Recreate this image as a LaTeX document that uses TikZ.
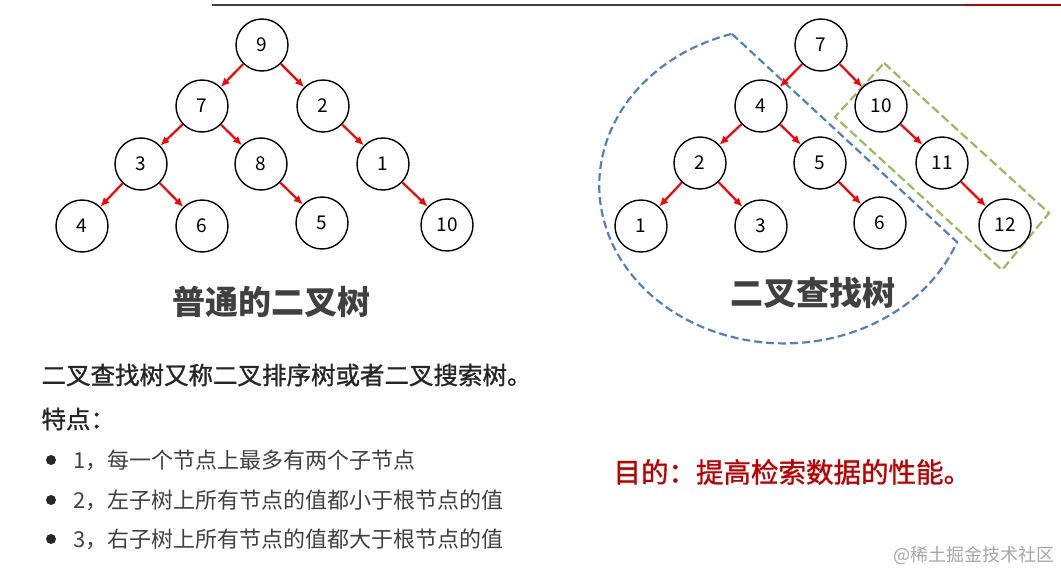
\documentclass[tikz,border=0pt]{standalone}
\usepackage{fontspec}
\setmainfont{Noto Sans CJK SC}
\newfontfamily\heavycjk[FakeBold=1.2]{Noto Sans CJK SC}
\usepackage{xcolor}
\usepackage{tikz}
\usetikzlibrary{arrows.meta}
\definecolor{darktext}{RGB}{64,64,64}
\definecolor{titlered}{RGB}{192,0,0}
\definecolor{boxblue}{RGB}{79,129,189}
\definecolor{boxgreen}{RGB}{155,187,89}

\begin{document}
\begin{tikzpicture}[x=1pt, y=-1pt,
    treenode/.style={circle, draw, line width=1.4pt, minimum size=52pt, inner sep=0pt, font=\fontsize{19}{19}\selectfont},
    edge/.style={-{Latex[length=9pt,width=8pt]}, red, line width=2.2pt},
    title/.style={font=\fontsize{33}{33}\selectfont\bfseries, text=darktext},
    point/.style={anchor=west, font=\fontsize{22}{22}\selectfont, text=darktext}]
    \useasboundingbox (0,0) rectangle (1061,570);
    \draw[line width=2.5pt, darktext] (212,5) -- (965,5);
    \draw[line width=2.5pt, titlered] (965,5) -- (1061,5);

    \node[treenode] (a9) at (262,45) {9};
    \node[treenode] (a7) at (202,106) {7};
    \node[treenode] (a2) at (323,106) {2};
    \node[treenode] (a3) at (141,164) {3};
    \node[treenode] (a8) at (261,164) {8};
    \node[treenode] (a1) at (383,164) {1};
    \node[treenode] (a4) at (82,226) {4};
    \node[treenode] (a6) at (202,226) {6};
    \node[treenode] (a5) at (322,223) {5};
    \node[treenode] (a10) at (447,225) {10};
    \draw[edge] (a9) -- (a7);
    \draw[edge] (a9) -- (a2);
    \draw[edge] (a7) -- (a3);
    \draw[edge] (a7) -- (a8);
    \draw[edge] (a2) -- (a1);
    \draw[edge] (a3) -- (a4);
    \draw[edge] (a3) -- (a6);
    \draw[edge] (a8) -- (a5);
    \draw[edge] (a1) -- (a10);
    \node[title] (plain) at (271,302) {普通的二叉树};

    \draw[boxblue, line width=2.2pt, dash pattern=on 8pt off 4pt]
      (732,34) -- (957,242) arc[start angle=21, end angle=253.4, x radius=185, y radius=158] -- cycle;
    \draw[boxgreen, line width=2.2pt, dash pattern=on 9pt off 4pt]
      (884,63) -- (1049,213) -- (1002,270) -- (835,117) -- cycle;
    \node[treenode] (b7) at (821,45) {7};
    \node[treenode] (b4) at (761,106) {4};
    \node[treenode] (b10) at (881,106) {10};
    \node[treenode] (b2) at (700,163) {2};
    \node[treenode] (b5) at (820,163) {5};
    \node[treenode] (b11) at (942,163) {11};
    \node[treenode] (b1) at (641,226) {1};
    \node[treenode] (b3) at (761,226) {3};
    \node[treenode] (b6) at (880,223) {6};
    \node[treenode] (b12) at (1005,225) {12};
    \draw[edge] (b7) -- (b4);
    \draw[edge] (b7) -- (b10);
    \draw[edge] (b4) -- (b2);
    \draw[edge] (b4) -- (b5);
    \draw[edge] (b10) -- (b11);
    \draw[edge] (b2) -- (b1);
    \draw[edge] (b2) -- (b3);
    \draw[edge] (b5) -- (b6);
    \draw[edge] (b11) -- (b12);
    \node[title] (search) at (813,293) {二叉查找树};

    \node[anchor=west, font=\heavycjk\fontsize{24.5}{24.5}\selectfont, text=black!85] (intro) at (38,375) {二叉查找树又称二叉排序树或者二叉搜索树。};
    \node[anchor=west, font=\heavycjk\fontsize{24.5}{24.5}\selectfont, text=black!85] (feat) at (38,419) {特点：};
    \fill[black!85] (51,460) circle[radius=5] (51,500) circle[radius=5] (51,539) circle[radius=5];
    \node[point] (p1) at (70,460) {1，每一个节点上最多有两个子节点};
    \node[point] (p2) at (70,500) {2，左子树上所有节点的值都小于根节点的值};
    \node[point] (p3) at (70,539) {3，右子树上所有节点的值都大于根节点的值};
    \node[anchor=west, font=\heavycjk\fontsize{27.5}{27.5}\selectfont, text=titlered] (goal) at (610,472) {目的：提高检索数据的性能。};
    \node[anchor=east, font=\fontsize{18}{18}\selectfont, text=black!35] (mark) at (1058,555) {@稀土掘金技术社区};
\end{tikzpicture}
\end{document}
